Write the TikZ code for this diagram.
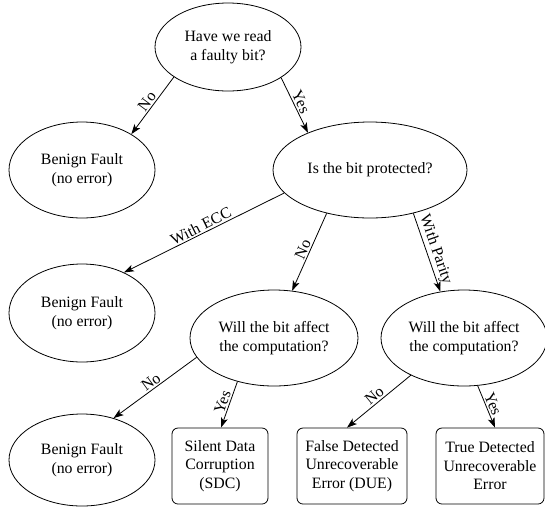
\documentclass[tikz,border=0pt]{standalone}
\usepackage{fontspec}
\setmainfont{Liberation Serif}
\usetikzlibrary{arrows.meta,shapes.geometric}
\begin{document}
\begin{tikzpicture}[x=1pt,y=-1pt,
  every node/.style={font=\fontsize{15.8}{18.5}\selectfont},
  ell/.style={draw, ellipse, line width=0.8pt, inner sep=0pt, align=center},
  bx/.style={draw, rectangle, rounded corners=6pt, line width=0.8pt, inner sep=0pt, align=center, minimum height=76pt},
  arr/.style={-{Stealth[length=10pt,width=7pt,inset=2.5pt]}, line width=0.8pt},
  lab/.style={midway, sloped, above, inner sep=1.5pt}]
\useasboundingbox (0,0) rectangle (545,507);
\node[ell, minimum width=146pt, minimum height=88pt] (q1) at (228,47) {Have we read\\a faulty bit?};
\node[ell, minimum width=146pt, minimum height=96pt] (b1) at (82,170) {Benign Fault\\(no error)};
\node[ell, minimum width=194pt, minimum height=96pt] (q2) at (370,170) {Is the bit protected?};
\node[ell, minimum width=146pt, minimum height=98pt] (b2) at (82,313) {Benign Fault\\(no error)};
\node[ell, minimum width=168pt, minimum height=96pt] (q3) at (274,338) {Will the bit affect\\the computation?};
\node[ell, minimum width=166pt, minimum height=96pt] (q4) at (464,338) {Will the bit affect\\the computation?};
\node[ell, minimum width=146pt, minimum height=92pt] (b3) at (82,460) {Benign Fault\\(no error)};
\node[bx, minimum width=96pt] (sdc) at (220,466) {Silent Data\\Corruption\\(SDC)};
\node[bx, minimum width=110pt] (due) at (352,466) {False Detected\\Unrecoverable\\Error (DUE)};
\node[bx, minimum width=108pt] (tdue) at (490,466) {True Detected\\Unrecoverable\\Error};
\draw[arr] (q1.209.4) -- node[lab]{No} (b1.36.5);
\draw[arr] (q1.330) -- node[lab]{Yes} (q2.149);
\draw[arr] (q2.195.8) -- node[lab]{With ECC} (b2.44);
\draw[arr] (q2.225) -- node[lab]{No} (q3.69);
\draw[arr] (q2.315) -- node[lab]{With Parity} (q4.117.5);
\draw[arr] (q3.194) -- node[lab]{No} (b3.53.7);
\draw[arr] (q3.230) -- node[lab]{Yes} ([xshift=1pt]sdc.north);
\draw[arr] (q4.215) -- node[lab]{No} ([xshift=-5pt]due.north);
\draw[arr] (q4.286) -- node[lab]{Yes} ([xshift=5pt]tdue.north);
\end{tikzpicture}
\end{document}
